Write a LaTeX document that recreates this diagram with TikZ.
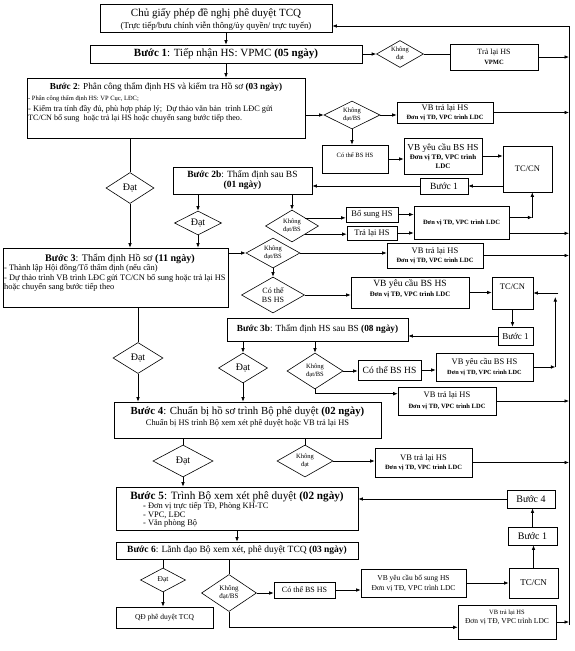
\documentclass[tikz,border=0pt]{standalone}
\usepackage{fontspec}
\setmainfont{Liberation Serif}
\usetikzlibrary{shapes.geometric,arrows.meta,calc}
\newcommand\fs[2]{\fontsize{#1}{#2}\selectfont}
\newcommand\rbx[5][]{\node[box,#1,minimum width={#4-#2},minimum height={#5-#3}] at ({(#2+#4)/2},{(#3+#5)/2})}
\newcommand\dmd[5][]{\pgfmathsetmacro\dasp{#4/#5}\node[dia,#1,minimum width={#4},minimum height={#5},shape aspect=\dasp] at (#2,#3)}
\begin{document}
\begin{tikzpicture}[x=1pt,y=-1pt,
  box/.style={draw,line width=0.6pt,inner sep=0.5pt,align=center},
  dia/.style={diamond,draw,line width=0.6pt,inner sep=0pt,align=center},
  txt/.style={inner sep=0pt,align=center},
  arr/.style={line width=0.7pt,-{Latex[length=4.5pt,width=3.6pt]}},
  ln/.style={line width=0.7pt}]
\path[use as bounding box,fill=white] (0,0) rectangle (575,651);

% ---- top
\rbx{100}{4}{332}{32} (top) {};
\node[txt,font=\fs{11}{13}] (topa) at (216,14) {Chủ giấy phép đề nghị phê duyệt TCQ};
\node[txt,font=\fs{8.8}{10}] (topb) at (216,26) {(Trực tiếp/bưu chính viễn thông/ủy quyền/ trực tuyến)};

% ---- step 1
\rbx[font=\fs{11}{12}]{90}{45}{362}{63} (b1) {\textbf{Bước 1}: Tiếp nhận HS: VPMC \textbf{(05 ngày)}};
\dmd[font=\fs{6.5}{7.5}]{400}{54}{47}{27} (d1) {Không\\đạt};
\rbx[font=\fs{8}{10}]{450}{44}{538}{70} (r1) {Trả lại HS\\{\fs{6.5}{8}\bfseries VPMC}};

% ---- step 2
\rbx{27}{78}{305}{138} (b2) {};
\node[txt,font=\fs{9.2}{11}] (t2a) at (166,87) {\textbf{Bước 2}: Phân công thẩm định HS và kiểm tra Hồ sơ \textbf{(03 ngày)}};
\node[txt,anchor=west,font=\fs{6.5}{8}] (t2b) at (28,99) {- Phân công thẩm định HS: VP Cục, LĐC;};
\node[txt,anchor=west,font=\fs{8.3}{9}] (t2c) at (28,109) {- Kiểm tra tính đầy đủ, phù hợp pháp lý;\ \ Dự thảo văn bản\ \ trình LĐC gửi};
\node[txt,anchor=west,font=\fs{8.1}{9}] (t2d) at (28,118) {TC/CN bổ sung\ \ hoặc trả lại HS hoặc chuyển sang bước tiếp theo.};
\dmd[font=\fs{6.5}{7.5}]{352}{115}{56}{28} (d2) {Không\\đạt/BS};
\rbx[font=\fs{8.5}{9.5}]{397}{102}{493}{123} (r2) {VB trả lại HS\\{\fs{6.5}{8}\bfseries Đơn vị TĐ, VPC trình LDC}};
\rbx{322}{145}{388}{173} (c2) {};
\node[txt,font=\fs{6.5}{8}] (c2t) at (355,155) {Có thể BS HS};
\rbx[font=\fs{9.2}{9}]{404}{138}{482}{174} (y2) {VB yêu cầu BS HS\\{\fs{7}{8.5}\bfseries Đơn vị TĐ, VPC trình}\\{\fs{7}{8.5}\bfseries LDC}};
\rbx[font=\fs{8.5}{10}]{503}{146}{552}{192} (tc2) {TC/CN};
\rbx[font=\fs{9.5}{11}]{420}{178}{468}{194} (s2) {Bước 1};

% ---- step 2b
\rbx[font=\fs{9.5}{10}]{173}{167}{312}{194} (b2b) {\textbf{Bước 2b}: Thẩm định sau BS\\\textbf{(01 ngày)}};
\dmd[font=\fs{10}{11}]{130}{188}{48}{31} (dA) {Đạt};
\dmd[font=\fs{10}{11}]{198}{223}{47}{24} (dB) {Đạt};
\dmd[font=\fs{6.5}{7.5}]{292}{226}{53}{32} (dC) {Không\\đạt/BS};
\rbx[font=\fs{8.5}{10}]{346}{207}{398}{222} (bs) {Bổ sung HS};
\rbx[font=\fs{8.5}{10}]{347}{226}{397}{240} (tl) {Trả lại HS};
\rbx[font=\fs{6.5}{8}\bfseries]{414}{206}{509}{239} (dv) {Đơn vị TĐ, VPC trình LDC};

% ---- step 3
\rbx{3}{248}{228}{307} (b3) {};
\node[txt,font=\fs{10.1}{11}] (t3a) at (120,259) {\textbf{Bước 3}: Thẩm định Hồ sơ \textbf{(11 ngày)}};
\node[txt,anchor=west,font=\fs{8.4}{9}] (t3b) at (4,268) {- Thành lập Hội đồng/Tổ thẩm định (nếu cần)};
\node[txt,anchor=west,font=\fs{8.4}{9}] (t3c) at (4,278) {- Dự thảo trình VB trình LĐC gửi TC/CN bổ sung hoặc trả lại HS};
\node[txt,anchor=west,font=\fs{8.4}{9}] (t3d) at (4,287) {hoặc chuyển sang bước tiếp theo};
\dmd[font=\fs{6.5}{7.5}]{273}{253}{54}{30} (d3) {Không\\đạt/BS};
\rbx[font=\fs{8.5}{9.5}]{387}{243}{483}{268} (r3) {VB trả lại HS\\{\fs{6.5}{8}\bfseries Đơn vị TĐ, VPC trình LDC}};
\dmd[font=\fs{8}{9}]{273}{295}{63}{36} (d3c) {Có thể\\BS HS};
\rbx{351}{277}{469}{308} (y3) {};
\node[txt,font=\fs{9.5}{10}] (y3t) at (410,289) {VB yêu cầu BS HS\\{\fs{6.8}{8}\bfseries Đơn vị TĐ, VPC trình LDC}};
\rbx{492}{277}{533}{309} (tc3) {};
\node[txt,font=\fs{8.5}{10}] (tc3t) at (512.5,287) {TC/CN};
\rbx[font=\fs{9}{10}]{498}{327}{533}{345} (s3) {Bước 1};

% ---- step 3b
\rbx[font=\fs{9.3}{10}]{227}{318}{408}{341} (b3b) {\textbf{Bước 3b}: Thẩm định HS sau BS \textbf{(08 ngày)}};
\dmd[font=\fs{10}{11}]{138}{358}{50}{31} (dD) {Đạt};
\dmd[font=\fs{10}{11}]{243}{368}{49}{30} (dE) {Đạt};
\dmd[font=\fs{6.5}{7.5}]{315}{371}{56}{36} (dF) {Không\\đạt/BS};
\rbx[font=\fs{9.5}{11}]{358}{360}{421}{380} (c3b) {Có thể BS HS};
\rbx[font=\fs{8.5}{9.5}]{436}{353}{533}{381} (y3b) {VB yêu cầu BS HS\\{\fs{6.3}{8}\bfseries Đơn vị TĐ, VPC trình LDC}};
\rbx[font=\fs{8.5}{11}]{398}{387}{496}{415} (r3b) {VB trả lại HS\\{\fs{6.5}{8}\bfseries Đơn vị TĐ, VPC trình LDC}};

% ---- step 4
\rbx{114}{402}{381}{438} (b4) {};
\node[txt,font=\fs{10.8}{11}] (t4a) at (247.5,412) {\textbf{Bước 4}: Chuẩn bị hồ sơ trình Bộ phê duyệt \textbf{(02 ngày)}};
\node[txt,font=\fs{8.4}{8}] (t4b) at (247.5,423) {Chuẩn bị HS trình Bộ xem xét phê duyệt hoặc VB trả lại HS};
\dmd[font=\fs{10}{11}]{183}{461}{60}{32} (dG) {Đạt};
\dmd[font=\fs{6.5}{7.5}]{305}{461}{56}{32} (dH) {Không\\đạt};
\rbx[font=\fs{8.5}{9.5}]{375}{448}{472}{477} (r4) {VB trả lại HS\\{\fs{6.5}{8}\bfseries Đơn vị TĐ, VPC trình LDC}};

% ---- step 5
\rbx{116}{487}{358}{530} (b5) {};
\node[txt,font=\fs{11.2}{12}] (t5a) at (237,497) {\textbf{Bước 5}: Trình Bộ xem xét phê duyệt \textbf{(02 ngày)}};
\node[txt,anchor=north west,align=left,font=\fs{8.4}{8.8}] (t5b) at (143,502) {\textbf{-} Đơn vị trực tiếp TĐ, Phòng KH-TC\\- VPC, LĐC\\- Văn phòng Bộ};
\rbx[font=\fs{10}{11}]{507}{490}{555}{508} (s4) {Bước 4};

% ---- step 6
\rbx[font=\fs{9.5}{11}]{116}{542}{358}{559} (b6) {\textbf{Bước 6}: Lãnh đạo Bộ xem xét, phê duyệt TCQ \textbf{(03 ngày)}};
\rbx[font=\fs{10}{11}]{508}{527}{557}{545} (s6) {Bước 1};
\rbx[font=\fs{9}{10}]{509}{568}{558}{598} (tc6) {TC/CN};
\dmd[font=\fs{7.5}{9}]{163}{580}{45}{24} (dI) {Đạt};
\rbx[font=\fs{7.5}{9}]{116}{607}{213}{628} (qd) {QĐ phê duyệt TCQ};
\dmd[font=\fs{7}{8}]{229}{593}{55}{37} (dJ) {Không\\đạt/BS};
\rbx[font=\fs{8}{9}]{274}{582}{335}{598} (c6) {Có thể BS HS};
\rbx[font=\fs{7.5}{10}]{361}{569}{466}{597} (y6) {VB yêu cầu bổ sung HS\\Đơn vị TĐ, VPC trình LDC};
\rbx{458}{605}{556}{639} (r6) {};
\node[txt,font=\fs{7.5}{9}] (r6t) at (507,617) {{\fs{6.5}{8}VB trả lại HS}\\Đơn vị TĐ, VPC trình LDC};

% ---- right return line
\coordinate (rt) at (569,26);
\coordinate (rb) at (569,625);
\draw[ln] (rt) -- (rb);
\draw[arr] (rt) -- (rt -| top.east);

% ---- connectors
\draw[arr] (top.south -| b1.north) -- (b1.north);
\draw[arr] (b1.south) -- (b1.south |- b2.north);
\draw[arr] (b1.east) -- (d1.west);
\draw[ln] (d1.east) -- (d1.east -| r1.west);
\draw[arr] (r1.east) -- (r1.east -| rt);

\draw[arr] (b2.east |- d2.west) -- (d2.west);
\draw[arr] (d2.east) -- (d2.east -| r2.west);
\draw[arr] (r2.east) -- (r2.east -| rt);
\draw[arr] (d2.south) -- (d2.south |- c2.north);
\draw[arr] (c2.east) -- (c2.east -| y2.west);
\draw[arr] (y2.east) -- (y2.east -| tc2.west);
\draw[arr] (tc2.west |- s2.east) -- (s2.east);
\draw[arr] (s2.west) -- (s2.west -| b2b.east);

\draw[ln] (b2.south -| dA.north) -- (dA.north);
\draw[arr] (dA.south) -- (dA.south |- b3.north);
\draw[arr] (b2b.south -| dB.north) -- (dB.north);
\draw[arr] (dB.south) -- (dB.south |- b3.north);
\draw[arr] (b2b.south -| dC.north) -- (dC.north);
\coordinate (dCu) at ($(dC.north)!0.5!(dC.east)$);
\coordinate (dCl) at ($(dC.south)!0.5!(dC.east)$);
\draw[arr] (dCu) -- (dCu -| bs.west);
\draw[arr] (dCl) -- (dCl -| tl.west);
\draw[arr] (bs.east) -- (bs.east -| dv.west);
\draw[arr] (tl.east) -- (tl.east -| dv.west);
\coordinate (k1) at ($(dv.east)+(23,-5)$);
\draw[arr] (dv.east |- k1) -- (k1);
\draw[arr] (k1) -- (k1 |- tc2.south);
\coordinate (k2) at ($(dv.south east)+(0,-6)$);
\draw[arr] (k2) -- (k2 -| rt);

\draw[arr] (b3.east |- d3.west) -- (d3.west);
\draw[arr] (d3.east) -- (d3.east -| r3.west);
\draw[arr] (r3.east) -- (r3.east -| rt);
\draw[arr] (d3.south) -- (d3c.north);
\draw[arr] (d3c.east) -- (d3c.east -| y3.west);
\draw[arr] (y3.east) -- (y3.east -| tc3.west);
\draw[arr] (tc3.south) -- (tc3.south |- s3.north);
\draw[arr] (s3.west) -- (s3.west -| b3b.east);
\coordinate (k4) at ($(y3b.east)+(22,0)$);
\draw[arr] (y3b.east) -- (k4);
\draw[arr] (k4) -- (k4 |- 0,297);
\draw[arr] ($(tc3.east)+(25,0)$) -- (tc3.east);

\draw[ln] (b3.south -| dD.north) -- (dD.north);
\draw[arr] (dD.south) -- (dD.south |- b4.north);
\draw[arr] (b3b.south -| dE.north) -- (dE.north);
\draw[arr] (dE.south) -- (dE.south |- b4.north);
\draw[arr] (b3b.south -| dF.north) -- (dF.north);
\draw[arr] (dF.east) -- (dF.east -| c3b.west);
\draw[arr] (c3b.east) -- (c3b.east -| y3b.west);
\coordinate (k6) at ($(r3b.north west)+(0,7)$);
\draw[arr] (dF.south) |- (k6);
\draw[arr] (r3b.east) -- (r3b.east -| rt);

\draw[ln] (b4.south -| dG.north) -- (dG.north);
\draw[arr] (dG.south) -- (dG.south |- b5.north);
\draw[ln] (b4.south -| dH.north) -- (dH.north);
\draw[arr] (dH.east) -- (dH.east -| r4.west);
\draw[arr] (r4.east) -- (r4.east -| rt);

\draw[arr] (s4.west) -- (s4.west -| b5.east);
\draw[arr] (s6.north) -- (s6.north |- s4.south);
\draw[arr] (tc6.north) -- (tc6.north |- s6.south);
\draw[arr] (b5.south) -- (b5.south |- b6.north);

\draw[ln] (b6.south -| dI.north) -- (dI.north);
\draw[arr] (dI.south) -- (dI.south |- qd.north);
\draw[ln] (b6.south -| dJ.north) -- (dJ.north);
\draw[arr] (dJ.east) -- (dJ.east -| c6.west);
\draw[arr] (c6.east) -- (c6.east -| y6.west);
\draw[arr] (tc6.west -| y6.east) -- (tc6.west);
\coordinate (k7) at ($(r6.south west)+(0,-12)$);
\draw[arr] (dJ.south) |- (k7);
\draw[arr] (r6.east) -- (r6.east -| rt);
\end{tikzpicture}
\end{document}
